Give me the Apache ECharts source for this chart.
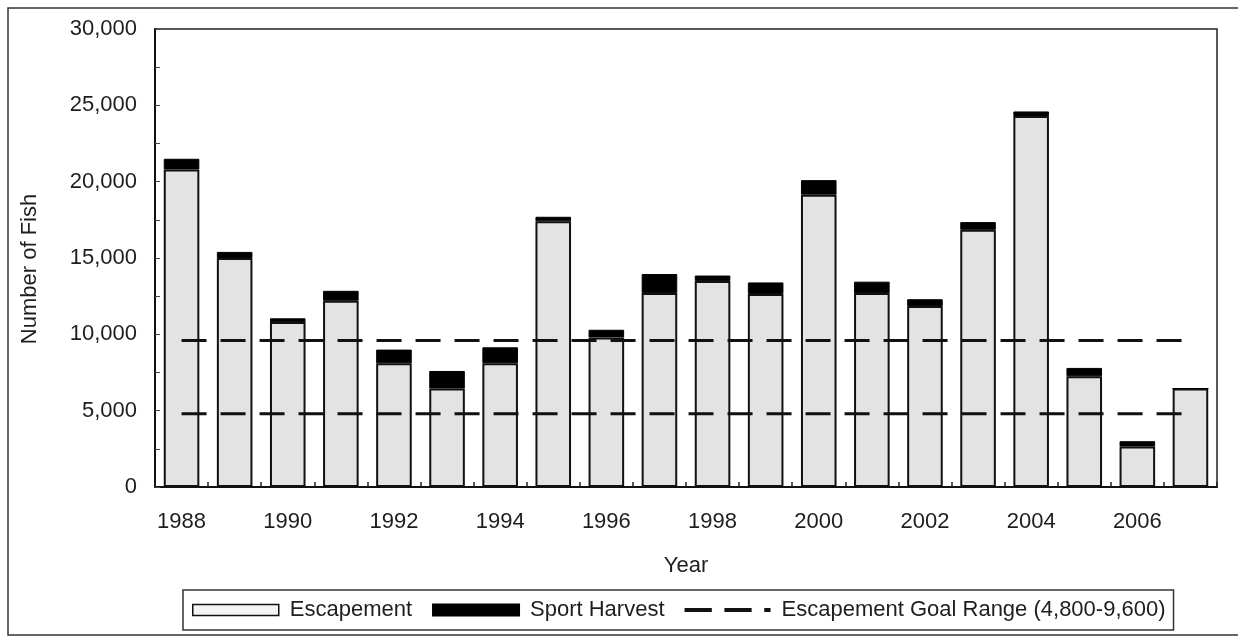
<!DOCTYPE html>
<html>
<head>
<meta charset="utf-8">
<script src="https://cdn.jsdelivr.net/npm/echarts@6/dist/echarts.min.js"></script>
<style>
  html, body { margin: 0; padding: 0; background: #fff; }
  #chart { width: 1238px; height: 638px; }
</style>
</head>
<body>
<div id="chart"></div>
<script>
const years = ['1988', '1989', '1990', '1991', '1992', '1993', '1994', '1995', '1996', '1997',
  '1998', '1999', '2000', '2001', '2002', '2003', '2004', '2005', '2006', '2007']
const escapement = [20800, 15000, 10800, 12200, 8100, 6450, 8100, 17400, 9800, 12700,
  13500, 12650, 19150, 12700, 11850, 16850, 24300, 7250, 2650, 6450]
const sportHarvest = [700, 400, 250, 650, 900, 1150, 1050, 300, 500, 1250,
  350, 750, 950, 750, 450, 500, 300, 550, 350, 0]
const goalLow = [4800, 4800, 4800, 4800, 4800, 4800, 4800, 4800, 4800, 4800,
  4800, 4800, 4800, 4800, 4800, 4800, 4800, 4800, 4800, 4800]
const goalHigh = [9600, 9600, 9600, 9600, 9600, 9600, 9600, 9600, 9600, 9600,
  9600, 9600, 9600, 9600, 9600, 9600, 9600, 9600, 9600, 9600]

const goalName = 'Escapement Goal Range (4,800-9,600)'
const font = '"Liberation Sans", Arial, sans-serif'
const ink = '#1e1e1e'
const fs = 22

const goalLine = (data) => ({
  name: goalName,
  type: 'line',
  data: data,
  symbol: 'none',
  z: 5,
  silent: true,
  lineStyle: { color: '#111', width: 3, type: [25, 14] },
  itemStyle: { color: '#111' },
})

const chart = echarts.init(document.getElementById('chart'), null, { renderer: 'canvas' })

chart.setOption({
  animation: false,
  backgroundColor: '#fff',
  textStyle: { fontFamily: font, color: ink },
  graphic: [
    {
      type: 'rect',
      shape: { x: 8, y: 8, width: 1240, height: 627 },
      style: { fill: 'none', stroke: '#333', lineWidth: 1.5 },
      silent: true,
    },
  ],
  grid: {
    left: 155,
    right: 21,
    top: 29,
    bottom: 151,
    show: true,
    borderColor: '#222',
    borderWidth: 1.5,
    backgroundColor: 'transparent',
  },
  legend: {
    left: 183,
    top: 590,
    padding: [9, 8, 9, 9],
    borderColor: '#333',
    borderWidth: 1.5,
    itemWidth: 86,
    itemHeight: 11,
    itemGap: 20,
    textStyle: { fontFamily: font, fontSize: fs, color: ink, padding: [0, 0, 0, 6] },
    data: [
      { name: 'Escapement', icon: 'rect', itemStyle: { color: '#f4f4f4', borderColor: '#111', borderWidth: 1.5 } },
      { name: 'Sport Harvest', icon: 'rect', itemStyle: { color: '#000' } },
      { name: goalName, icon: 'path://M0,0H26V4H0Z M38,0H64V4H38Z M76,0H82V4H76Z', itemHeight: 4, itemStyle: { color: '#111' } },
    ],
  },
  xAxis: {
    type: 'category',
    data: years,
    name: 'Year',
    nameLocation: 'middle',
    nameGap: 68,
    nameTextStyle: { fontFamily: font, fontSize: fs, color: ink },
    axisLine: { lineStyle: { color: '#111', width: 2 } },
    axisTick: { show: true, inside: true, length: 5, interval: 0, lineStyle: { color: '#222', width: 1.5 } },
    axisLabel: { interval: 1, margin: 24, fontFamily: font, fontSize: fs, color: ink },
  },
  yAxis: {
    type: 'value',
    min: 0,
    max: 30000,
    interval: 5000,
    name: 'Number of Fish',
    nameLocation: 'middle',
    nameGap: 114,
    nameTextStyle: { fontFamily: font, fontSize: fs, color: ink, padding: [0, 0, 0, -22] },
    axisLine: { show: true, lineStyle: { color: '#111', width: 2 } },
    axisTick: { show: true, inside: true, length: 5, lineStyle: { color: '#444', width: 1 } },
    minorTick: { show: true, splitNumber: 2, length: 5, lineStyle: { color: '#444', width: 1 } },
    splitLine: { show: false },
    axisLabel: {
      margin: 18,
      fontFamily: font,
      fontSize: fs,
      color: ink,
      formatter: (v) => v.toLocaleString('en-US'),
    },
  },
  series: [
    {
      name: 'Escapement',
      type: 'bar',
      stack: 'fish',
      data: escapement,
      barWidth: '67%',
      itemStyle: { color: '#e3e3e3', borderColor: '#111', borderWidth: 2 },
    },
    {
      name: 'Sport Harvest',
      type: 'bar',
      stack: 'fish',
      data: sportHarvest,
      barWidth: '67%',
      itemStyle: { color: '#000', borderColor: '#000', borderWidth: 1 },
    },
    goalLine(goalHigh),
    goalLine(goalLow),
  ],
})
</script>
</body>
</html>
